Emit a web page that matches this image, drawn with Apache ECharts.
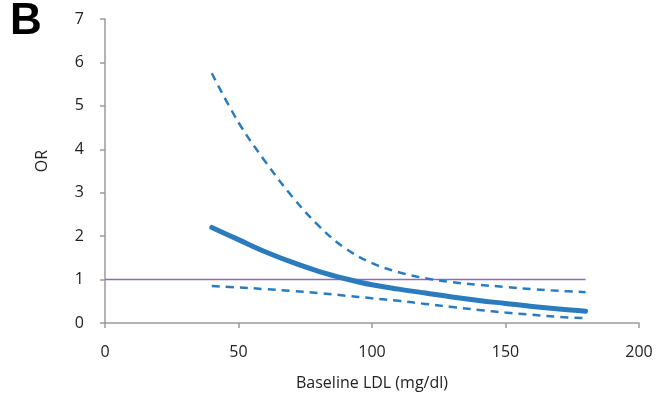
<!DOCTYPE html>
<html>
<head>
<meta charset="utf-8">
<script src="https://cdn.jsdelivr.net/npm/echarts@6/dist/echarts.min.js"></script>
<style>
  html, body { margin: 0; padding: 0; background: #fff; }
  #chart { width: 661px; height: 400px; }
</style>
</head>
<body>
<div id="chart"></div>
<script>
// Baseline LDL (mg/dl) sample points
const ldl = [40, 50, 60, 70, 80, 90, 100, 110, 120, 130, 140, 150, 160, 170, 180];
// Odds ratio estimate and 95% confidence bounds
const orEstimate = [2.2, 1.92, 1.64, 1.4, 1.19, 1.02, 0.88, 0.78, 0.69, 0.6, 0.52, 0.45, 0.38, 0.32, 0.27];
const orUpper = [5.75, 4.62, 3.72, 2.92, 2.24, 1.72, 1.38, 1.17, 1.03, 0.94, 0.88, 0.83, 0.78, 0.74, 0.71];
const orLower = [0.85, 0.82, 0.78, 0.74, 0.69, 0.63, 0.57, 0.51, 0.44, 0.37, 0.3, 0.24, 0.19, 0.14, 0.11];
// Reference line OR = 1
const refX = [0, 180];
const refY = [1, 1];

const pairs = (xs, ys) => xs.map((x, i) => [x, ys[i]]);

const blue = '#2b7bbf';
const axisGrey = '#9a9a9a';
const textColor = '#222';
const font = '"Open Sans", "Liberation Sans", sans-serif';

const chart = echarts.init(document.getElementById('chart'));
chart.setOption({
  animation: false,
  backgroundColor: '#fff',
  grid: { left: 105, right: 22, top: 19, bottom: 77 },
  graphic: [
    {
      type: 'text', x: 10, y: 0,
      style: { text: 'B', font: 'bold 44px "Liberation Sans", sans-serif', fill: '#000' }
    },
    {
      type: 'text', x: 42, y: 161, rotation: Math.PI / 2,
      style: {
        text: 'OR', font: '16px ' + font, fill: textColor,
        align: 'center', verticalAlign: 'middle'
      }
    }
  ],
  xAxis: {
    type: 'value', min: 0, max: 200, interval: 50,
    name: 'Baseline LDL (mg/dl)', nameLocation: 'middle', nameGap: 52,
    nameTextStyle: { fontFamily: font, fontSize: 16, color: textColor },
    axisLine: { lineStyle: { color: axisGrey, width: 1.5 } },
    axisTick: { length: 5, lineStyle: { color: axisGrey, width: 1.5 } },
    axisLabel: { fontFamily: font, fontSize: 16, color: textColor, margin: 21 },
    splitLine: { show: false }
  },
  yAxis: {
    type: 'value', min: 0, max: 7, interval: 1,
    axisLine: { show: true, lineStyle: { color: axisGrey, width: 1.5 } },
    axisTick: { show: true, length: 5, lineStyle: { color: axisGrey, width: 1.5 } },
    axisLabel: { fontFamily: font, fontSize: 16, color: textColor, margin: 21 },
    splitLine: { show: false }
  },
  series: [
    {
      type: 'line', data: pairs(refX, refY), showSymbol: false,
      lineStyle: { color: '#8c6bb8', width: 1.5 }, z: 1
    },
    {
      type: 'line', data: pairs(ldl, orUpper), smooth: 0.4, showSymbol: false,
      lineStyle: { color: blue, width: 2.5, type: [8, 6] }
    },
    {
      type: 'line', data: pairs(ldl, orLower), smooth: 0.4, showSymbol: false,
      lineStyle: { color: blue, width: 2.5, type: [8, 6] }
    },
    {
      type: 'line', data: pairs(ldl, orEstimate), smooth: 0.4, showSymbol: false,
      lineStyle: { color: blue, width: 5, cap: 'round' }
    }
  ]
});
</script>
</body>
</html>
